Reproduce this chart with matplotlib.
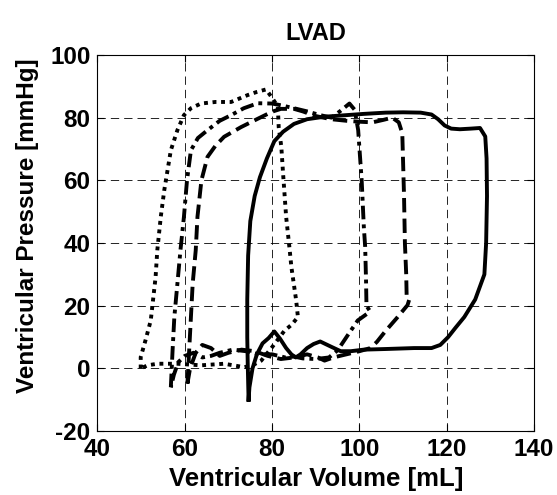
import matplotlib
matplotlib.use("Agg")
import matplotlib.pyplot as plt

# loop 1 (solid)
vol_solid = [74.6, 74.8, 75.5, 76.5, 77.8, 79.2, 80.5, 81.8, 83.2, 84.4, 85.4, 86.5, 88.0, 89.5, 91.0,
             93.4, 95.7, 98.0, 101.0, 106.0, 112.5, 116.5, 118.5, 120.3, 122.0, 124.0, 126.5, 128.6,
             129.0, 129.2, 129.1, 128.8, 127.6, 125.5, 123.0, 121.0, 119.5, 118.0, 116.5, 114.0, 110.0,
             106.0, 101.0, 96.0, 92.0, 88.0, 85.0, 82.5, 80.5, 78.8, 77.2, 76.0, 75.0, 74.5, 74.3, 74.3,
             74.4, 74.6]
pres_solid = [-10.0, -6.0, 0.0, 4.5, 8.0, 9.7, 11.8, 9.5, 6.5, 4.5, 3.5, 4.5, 6.5, 7.8, 8.6,
              7.0, 5.5, 5.5, 6.0, 6.2, 6.5, 6.5, 7.5, 10.0, 13.0, 16.4, 22.0, 30.0,
              40.0, 55.0, 67.0, 74.0, 76.7, 76.5, 76.3, 76.5, 77.5, 79.5, 81.0, 81.6, 81.7,
              81.6, 81.2, 80.7, 80.3, 79.5, 78.0, 75.5, 72.5, 67.0, 61.0, 55.0, 47.0, 36.0, 22.0, 10.0,
              2.0, -10.0]

# loop 2 (dashed)
vol_dash = [60.6, 61.0, 61.4, 61.8, 62.5, 62.9, 63.8, 65.2, 67.0, 69.0, 72.9, 76.5, 80.0, 82.0, 85.0,
            87.0, 90.0, 93.5, 97.0, 100.0, 103.0, 105.5, 107.5, 109.0, 109.8, 110.0, 110.2, 110.4,
            110.7, 110.8, 111.4, 111.0, 108.5, 106.0, 104.0, 102.5, 100.0, 97.0, 94.0, 92.0, 90.5,
            88.0, 85.0, 82.0, 79.0, 76.0, 73.0, 70.0, 68.0, 66.0, 64.0, 62.5, 61.2, 60.6]
pres_dash = [-4.8, 5.8, 16.4, 27.0, 37.7, 48.4, 60.0, 67.5, 71.0, 73.9, 77.0, 79.5, 81.9, 82.8, 82.8,
             82.0, 80.5, 79.5, 79.0, 78.7, 78.5, 79.3, 80.0, 78.5, 75.0, 65.0, 55.0, 40.0,
             30.0, 23.0, 22.0, 20.2, 16.0, 12.0, 8.5, 6.5, 5.5, 4.5, 3.5, 2.5, 3.5,
             4.5, 3.5, 3.0, 4.0, 5.5, 6.0, 5.0, 4.0, 6.5, 7.5, 5.0, 0.0, -4.8]

# loop 3 (dash-dot)
vol_dashdot = [56.8, 57.2, 57.6, 58.3, 59.0, 59.8, 60.5, 61.4, 63.0, 65.2, 68.0, 70.6, 73.5, 76.7, 80.0,
               82.5, 85.0, 88.0, 91.0, 93.6, 95.5, 97.7, 98.9, 99.7, 100.5, 101.0, 101.3, 101.5,
               101.6, 102.3, 101.8, 99.6, 97.5, 95.0, 93.0, 90.0, 87.0, 85.0, 83.0, 80.0, 77.0,
               74.0, 71.0, 68.0, 66.0, 64.0, 62.0, 60.0, 58.5, 57.5, 56.8]
pres_dashdot = [-6.0, 5.8, 16.4, 27.0, 37.7, 48.4, 60.0, 69.6, 73.5, 76.0, 79.0, 80.8, 83.0, 84.6, 84.5,
                83.8, 83.0, 82.0, 80.8, 80.0, 82.0, 84.5, 82.5, 76.0, 60.0, 45.0, 38.8, 28.0,
                20.0, 18.5, 17.5, 15.3, 11.0, 5.8, 3.5, 3.0, 3.2, 3.8, 3.5, 4.5, 4.5,
                5.5, 6.0, 5.0, 4.0, 3.5, 5.0, 4.0, 2.0, -2.0, -6.0]

# loop 4 (dotted)
vol_dot = [49.9, 49.9, 51.0, 52.2, 53.3, 53.7, 54.5, 55.3, 56.8, 58.3, 59.8, 61.4, 63.7, 67.0, 70.6,
           74.4, 76.5, 78.6, 80.0, 81.3, 81.5, 82.1, 82.5, 83.2, 84.0, 84.4, 85.5, 85.9, 84.5,
           82.8, 80.0, 77.5, 75.5, 73.6, 69.0, 63.7, 58.3, 53.7, 51.5, 49.9]
pres_dot = [0.0, 3.6, 9.0, 15.3, 29.0, 37.7, 48.4, 56.9, 69.6, 76.0, 80.8, 83.0, 84.5, 85.0, 85.0,
            87.2, 88.2, 89.0, 86.3, 83.5, 77.0, 70.7, 62.2, 48.4, 38.0, 32.4, 21.7, 16.4, 14.0,
            12.0, 6.8, 2.5, 1.0, 0.4, 1.5, 1.0, 1.5, 1.5, 1.0, 0.0]

x_ticks = [40, 60, 80, 100, 120, 140]
x_ticklabels = ["40", "60", "80", "100", "120", "140"]
y_ticks = [-20, 0, 20, 40, 60, 80, 100]
y_ticklabels = ["-20", "0", "20", "40", "60", "80", "100"]

plt.rcParams['font.family'] = ['Liberation Sans', 'DejaVu Sans']

fig = plt.figure(figsize=(5.57, 4.95), dpi=100)
ax = fig.add_axes([0.175, 0.129, 0.784, 0.760])

lw = 2.8
ax.plot(vol_solid, pres_solid, color='black', linestyle='-', linewidth=lw)
ax.plot(vol_dash, pres_dash, color='black', linestyle=(0, (3.7, 1.6)), linewidth=lw)
ax.plot(vol_dashdot, pres_dashdot, color='black', linestyle=(0, (3.5, 1.3, 1.0, 1.3)), linewidth=lw)
ax.plot(vol_dot, pres_dot, color='black', linestyle=(0, (1.0, 1.2)), linewidth=lw)

ax.set_xlim(40, 140)
ax.set_ylim(-20, 100)
ax.set_xticks(x_ticks)
ax.set_xticklabels(x_ticklabels, fontsize=17.5, fontweight='bold')
ax.set_yticks(y_ticks)
ax.set_yticklabels(y_ticklabels, fontsize=17.5, fontweight='bold')
ax.grid(True, color='black', linestyle=(0, (10, 6)), linewidth=0.6)
ax.tick_params(direction='in', top=True, right=True, length=5, width=0.8, pad=5)
for s in ax.spines.values():
    s.set_linewidth(0.8)

ax.set_title("LVAD", fontsize=17, fontweight='bold', pad=11)
ax.set_xlabel("Ventricular Volume [mL]", fontsize=18.5, fontweight='bold')
ax.set_ylabel("Ventricular Pressure [mmHg]", fontsize=17.5, fontweight='bold')
ax.xaxis.set_label_coords(0.5, -0.095)
ax.yaxis.set_label_coords(-0.135, 0.545)

fig.savefig("out.png", dpi=100)
